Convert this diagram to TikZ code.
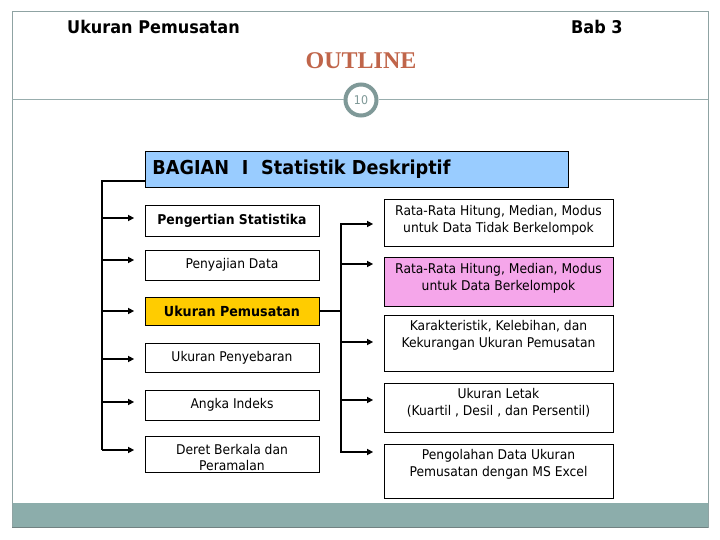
\documentclass[tikz,border=0pt]{standalone}
\usepackage{fontspec}
\setmainfont{DejaVu Sans}[FakeStretch=0.92]
\newfontfamily\tah{DejaVu Sans}[FakeStretch=0.92]
\newfontfamily\serifb{Liberation Serif}
\usetikzlibrary{arrows.meta}
\definecolor{framec}{HTML}{8FA3A3}
\definecolor{bandc}{HTML}{8CADAB}
\definecolor{ringc}{HTML}{7F9998}
\definecolor{outlc}{HTML}{C0654A}
\definecolor{bagblue}{HTML}{99CCFF}
\definecolor{yelc}{HTML}{FFCC00}
\definecolor{pinkc}{HTML}{F5A6EA}
\begin{document}
\begin{tikzpicture}[x=1pt,y=-1pt,
  box/.style={draw=black, line width=0.8pt, minimum width=174pt, inner sep=0pt, align=center, font=\tah\fontsize{13.4}{16}\selectfont},
  rbox/.style={draw=black, line width=0.8pt, minimum width=229pt, inner sep=0pt},
  rtext/.style={align=center, inner sep=0pt, font=\tah\fontsize{13.4}{17}\selectfont},
  conn/.style={line width=1.8pt},
  arr/.style={conn, -{Triangle[length=6pt,width=6pt]}, shorten >=10.5pt},
]
\useasboundingbox (0,0) rectangle (720,540);
\fill[white] (0,0) rectangle (720,540);
\fill[bandc] (12,503) rectangle (708,527);
\draw[framec, line width=1pt] (12,12) rectangle (708,527);
\draw[framec!80!black, line width=1pt] (12,527) -- (708,527);

% header
\node[anchor=west, inner sep=0pt, font=\tah\bfseries\fontsize{17.5}{20}\selectfont] (hl) at (67,27) {Ukuran Pemusatan};
\node[anchor=west, inner sep=0pt, font=\tah\bfseries\fontsize{17.5}{20}\selectfont] (hr) at (571,27) {Bab 3};
\node[inner sep=0pt, font=\serifb\bfseries\fontsize{24}{26}\selectfont, text=outlc] (title) at (361,61) {OUTLINE};

\node[circle, draw=ringc, line width=4pt, fill=white, minimum size=31pt, inner sep=0pt,
      font=\tah\fontsize{12}{12}\selectfont, text=ringc] (pg) at (361,100) {10};
\draw[ringc!80, line width=1pt] (12,100) -- (pg.west);
\draw[ringc!80, line width=1pt] (pg.east) -- (708,100);

% title box
\node[draw=black, line width=0.8pt, fill=bagblue, anchor=north west, minimum width=423pt,
      minimum height=36pt, text width=409pt, inner xsep=7pt, inner ysep=0pt, align=left,
      font=\tah\bfseries\fontsize{19.2}{21}\selectfont] (bag) at (145,151) {\raisebox{1.5pt}{BAGIAN\ \ I\ \ Statistik Deskriptif}};

% left boxes
\node[box, minimum height=31pt, font=\tah\bfseries\fontsize{13.5}{16}\selectfont] (pengertian) at (232,220.5) {Pengertian Statistika};
\node[box, minimum height=30pt] (penyajian) at (232,265) {\raisebox{3pt}{Penyajian Data}};
\node[box, minimum height=28pt, fill=yelc, font=\tah\bfseries\fontsize{13.8}{16}\selectfont] (pemusatan) at (232,311) {Ukuran Pemusatan};
\node[box, minimum height=29pt] (penyebaran) at (232,357.5) {Ukuran Penyebaran};
\node[box, minimum height=30pt] (angka) at (232,405) {\raisebox{2pt}{Angka Indeks}};
\node[box, minimum height=36pt] (deret) at (232,454) {};
\node[box, draw=none, anchor=center] (derett) at (232,458) {Deret Berkala dan\\Peramalan};

% right boxes
\node[rbox, minimum height=47pt] (r1) at (498.5,222.5) {};
\node[rtext] (r1t) at (498.5,220) {Rata-Rata Hitung, Median, Modus\\untuk Data Tidak Berkelompok};
\node[rbox, minimum height=49pt, fill=pinkc] (r2) at (498.5,281.5) {};
\node[rtext] (r2t) at (498.5,278.5) {Rata-Rata Hitung, Median, Modus\\untuk Data Berkelompok};
\node[rbox, minimum height=56pt] (r3) at (498.5,343) {};
\node[rtext] (r3t) at (498.5,335.5) {Karakteristik, Kelebihan, dan\\Kekurangan Ukuran Pemusatan};
\node[rbox, minimum height=49pt] (r4) at (498.5,407.5) {};
\node[rtext] (r4t) at (498.5,402.5) {Ukuran Letak\\(Kuartil , Desil , dan Persentil)};
\node[rbox, minimum height=54pt] (r5) at (498.5,471) {};
\node[rtext] (r5t) at (498.5,464) {Pengolahan Data Ukuran\\Pemusatan dengan MS Excel};

% left connectors
\coordinate (ltop) at (102,181);
\coordinate (lbot) at (102,450);
\draw[conn, line join=miter] (bag.west |- ltop) -- (ltop) -- (lbot);
\draw[arr] (ltop |- 0,218) -- (pengertian.west |- 0,218);
\draw[arr] (ltop |- 0,260) -- (penyajian.west |- 0,260);
\draw[arr] (ltop |- 0,311) -- (pemusatan.west |- 0,311);
\draw[arr] (ltop |- 0,359) -- (penyebaran.west |- 0,359);
\draw[arr] (ltop |- 0,402) -- (angka.west |- 0,402);
\draw[arr] (ltop |- 0,450) -- (deret.west |- 0,450);

% right connectors
\coordinate (rtop) at (341,224);
\coordinate (rbot) at (341,452);
\draw[conn, line cap=rect] (rtop) -- (rbot);
\draw[conn] (pemusatan.east) -- (rtop |- pemusatan.east);
\draw[arr] (rtop) -- (r1.west |- rtop);
\draw[arr] (rtop |- 0,264) -- (r2.west |- 0,264);
\draw[arr] (rtop |- 0,342) -- (r3.west |- 0,342);
\draw[arr] (rtop |- 0,400) -- (r4.west |- 0,400);
\draw[arr] (rbot) -- (r5.west |- rbot);
\end{tikzpicture}
\end{document}
